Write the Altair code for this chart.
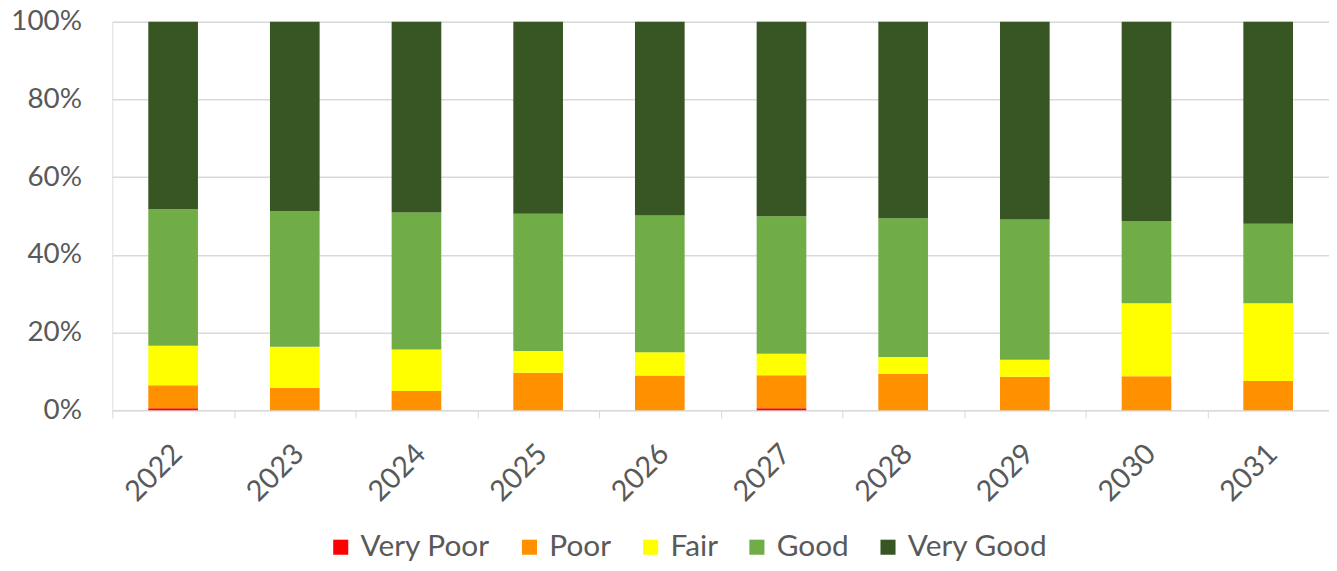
import altair as alt
import pandas as pd

years = ["2022", "2023", "2024", "2025", "2026", "2027", "2028", "2029", "2030", "2031"]
categories = ["Very Poor", "Poor", "Fair", "Good", "Very Good"]
colors = ["#FF0000", "#FF9000", "#FFFF00", "#70AD47", "#375623"]

very_poor = [0.5, 0.0, 0.0, 0.0, 0.0, 0.5, 0.0, 0.0, 0.0, 0.0]
poor = [5.9, 5.8, 4.9, 9.6, 8.9, 8.5, 9.3, 8.6, 8.7, 7.5]
fair = [10.2, 10.5, 10.7, 5.6, 6.0, 5.5, 4.4, 4.4, 18.8, 20.0]
good = [35.1, 34.9, 35.3, 35.4, 35.2, 35.4, 35.7, 36.1, 21.2, 20.5]
very_good = [48.3, 48.8, 49.1, 49.4, 49.9, 50.1, 50.6, 50.9, 51.3, 52.0]

series = [very_poor, poor, fair, good, very_good]
rows = []
for ci, (cat, vals) in enumerate(zip(categories, series)):
    for y, v in zip(years, vals):
        rows.append({"Year": y, "Condition": cat, "Share": v / 100.0, "order": ci})
df = pd.DataFrame(rows)

FONT = "Lato"
GRAY = "#595959"

chart = alt.Chart(df).mark_bar(size=50).encode(
    x=alt.X("Year:N", sort=years, title=None,
            scale=alt.Scale(paddingInner=0, paddingOuter=0),
            axis=alt.Axis(labelAngle=-45, labelAlign="right", labelBaseline="middle",
                          labelFontSize=29, labelColor=GRAY, labelFont=FONT,
                          labelPadding=31, labelOffset=4,
                          domainColor="#D9D9D9", tickColor="#D9D9D9", tickSize=8,
                          tickBand="extent", grid=False)),
    y=alt.Y("Share:Q", stack="zero", title=None,
            scale=alt.Scale(domain=[0, 1], nice=False),
            axis=alt.Axis(format="%", values=[0, 0.2, 0.4, 0.6, 0.8, 1.0],
                          labelFontSize=28, labelColor=GRAY, labelFont=FONT,
                          labelPadding=31, domain=False, ticks=False,
                          gridColor="#D9D9D9", gridWidth=1.5)),
    color=alt.Color("Condition:N",
                    scale=alt.Scale(domain=categories, range=colors),
                    legend=alt.Legend(title=None, orient="none", direction="horizontal",
                                      legendX=215, legendY=514,
                                      symbolType="square", symbolSize=230,
                                      symbolStrokeWidth=0,
                                      labelFontSize=30, labelColor=GRAY, labelFont=FONT,
                                      labelOffset=5, columnPadding=24)),
    order=alt.Order("order:Q", sort="ascending"),
).properties(
    width=1225,
    height=391,
    autosize=alt.AutoSizeParams(type="none"),
    padding={"left": 105, "top": 12, "right": 0, "bottom": 152},
).configure_view(stroke=None).configure(background="white")

chart.save("out.html", embed_options={"renderer": "svg", "actions": False})
